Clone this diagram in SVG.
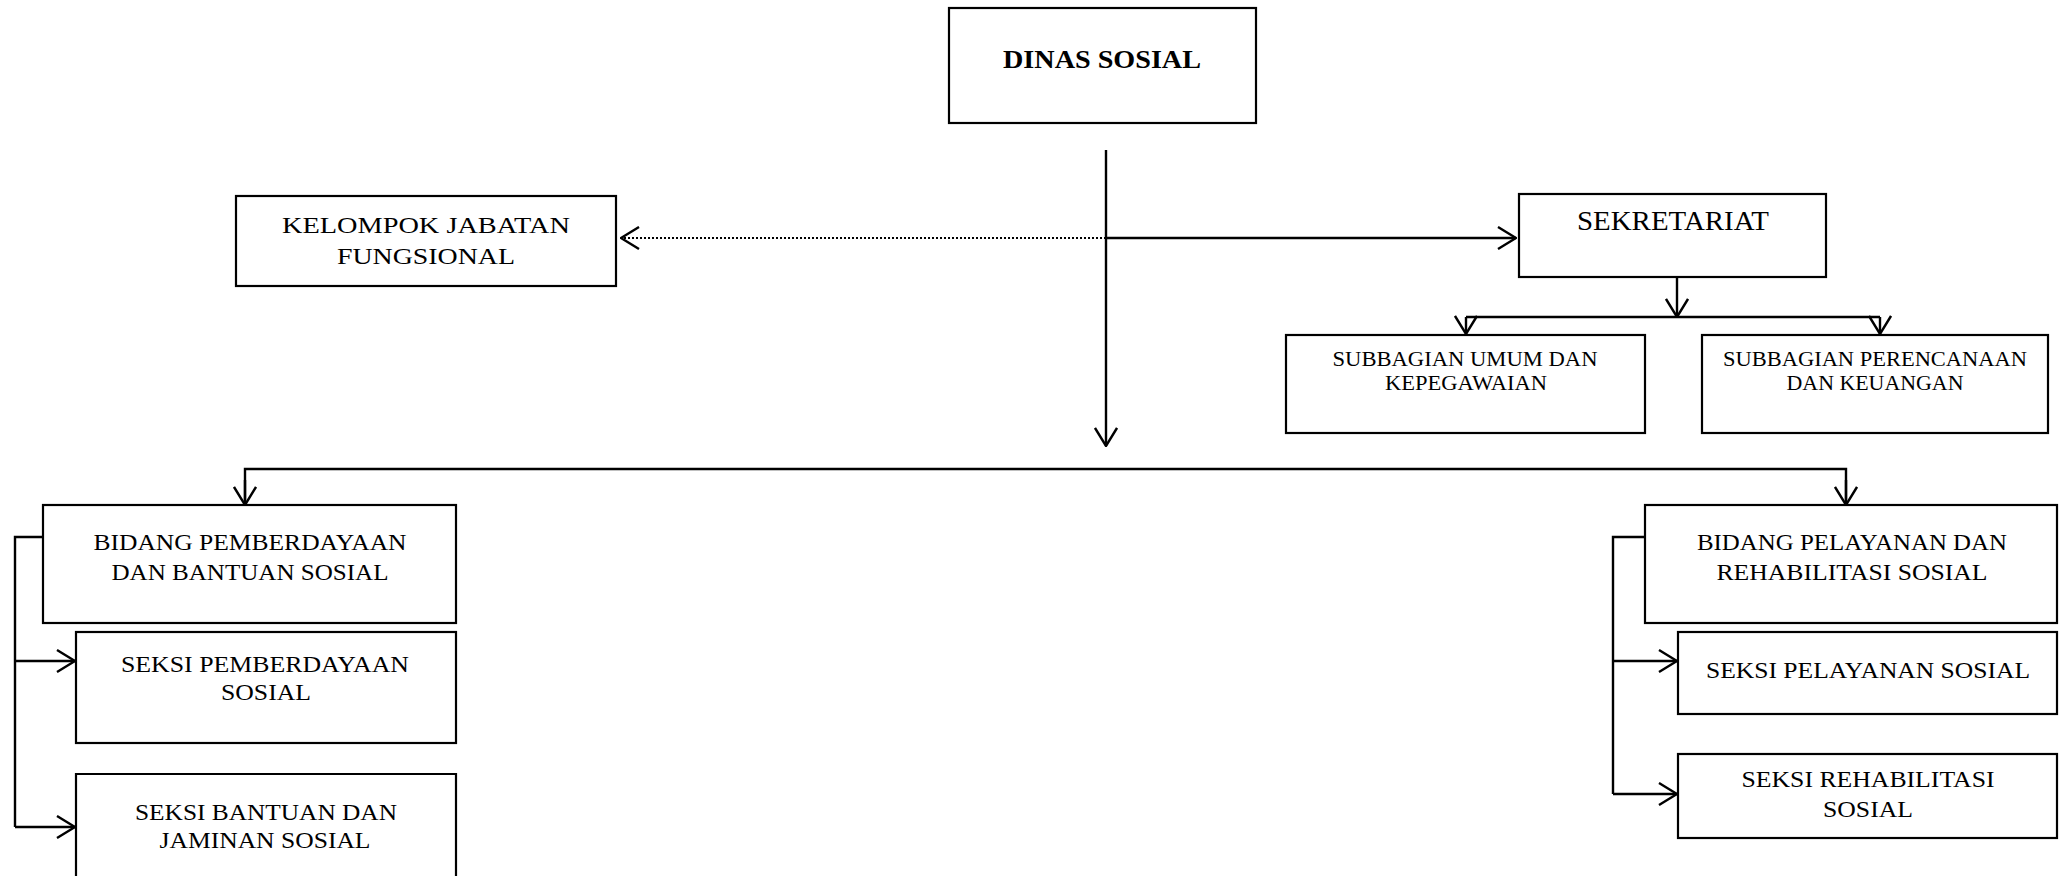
<svg xmlns="http://www.w3.org/2000/svg" width="2064" height="876" viewBox="0 0 2064 876">
<style>
.box{fill:#fff;stroke:#000;stroke-width:2.2}
.t{font-family:"Liberation Serif",serif;font-size:24px;fill:#000;text-anchor:middle}
.tb{font-family:"Liberation Serif",serif;font-size:26px;font-weight:bold;fill:#000;text-anchor:middle}
.tc{font-family:"Liberation Serif",serif;fill:#000;text-anchor:middle}
.ln{fill:none;stroke:#000;stroke-width:2.4}
.dot{fill:none;stroke:#000;stroke-width:2.2;stroke-dasharray:2 2}
</style>
<defs>
<marker id="ah" viewBox="0 0 20 24" refX="19" refY="12" markerWidth="20" markerHeight="24" markerUnits="userSpaceOnUse" orient="auto">
<path d="M1,1 L19,12 L1,23" fill="none" stroke="#000" stroke-width="2.4"/>
</marker>
</defs>
<rect width="2064" height="876" fill="#fff"/>
<g id="connectors">
<path class="ln" d="M1106,150 V446" marker-end="url(#ah)"/>
<path class="dot" d="M1106,238 H621" marker-end="url(#ah)"/>
<path class="ln" d="M1106,238 H1516" marker-end="url(#ah)"/>
<path class="ln" d="M1677,277 V317" marker-end="url(#ah)"/>
<path class="ln" d="M1466,317 H1880"/>
<path class="ln" d="M1466,317 V334" marker-end="url(#ah)"/>
<path class="ln" d="M1880,317 V334" marker-end="url(#ah)"/>
<path class="ln" d="M245,505 V469 H1846 V505" />
<path class="ln" d="M245,480 V505" marker-end="url(#ah)"/>
<path class="ln" d="M1846,480 V505" marker-end="url(#ah)"/>
<path class="ln" d="M43,537 H15 V827"/>
<path class="ln" d="M15,661 H75" marker-end="url(#ah)"/>
<path class="ln" d="M15,827 H75" marker-end="url(#ah)"/>
<path class="ln" d="M1645,537 H1613 V794"/>
<path class="ln" d="M1613,661 H1677" marker-end="url(#ah)"/>
<path class="ln" d="M1613,794 H1677" marker-end="url(#ah)"/>
</g>
<g id="dinas-sosial">
<rect class="box" x="949" y="8" width="307" height="115"/>
<text class="tb" x="1102" y="68" textLength="198" lengthAdjust="spacingAndGlyphs">DINAS SOSIAL</text>
</g>
<g id="kelompok-jabatan-fungsional">
<rect class="box" x="236" y="196" width="380" height="90"/>
<text class="t" x="426" y="233" font-size="28" textLength="288" lengthAdjust="spacingAndGlyphs">KELOMPOK JABATAN</text>
<text class="t" x="426" y="264" font-size="28" textLength="178" lengthAdjust="spacingAndGlyphs">FUNGSIONAL</text>
</g>
<g id="sekretariat">
<rect class="box" x="1519" y="194" width="307" height="83"/>
<text class="tc" x="1673" y="230" font-size="27" textLength="192" lengthAdjust="spacingAndGlyphs">SEKRETARIAT</text>
</g>
<g id="subbagian-umum">
<rect class="box" x="1286" y="335" width="359" height="98"/>
<text class="tc" x="1465" y="366" font-size="22" textLength="265" lengthAdjust="spacingAndGlyphs">SUBBAGIAN UMUM DAN</text>
<text class="tc" x="1466" y="390" font-size="22" textLength="162" lengthAdjust="spacingAndGlyphs">KEPEGAWAIAN</text>
</g>
<g id="subbagian-perencanaan">
<rect class="box" x="1702" y="335" width="346" height="98"/>
<text class="tc" x="1875" y="366" font-size="22" textLength="304" lengthAdjust="spacingAndGlyphs">SUBBAGIAN PERENCANAAN</text>
<text class="tc" x="1875" y="390" font-size="22" textLength="177" lengthAdjust="spacingAndGlyphs">DAN KEUANGAN</text>
</g>
<g id="bidang-pemberdayaan">
<rect class="box" x="43" y="505" width="413" height="118"/>
<text class="t" x="250" y="550" textLength="313" lengthAdjust="spacingAndGlyphs">BIDANG PEMBERDAYAAN</text>
<text class="t" x="250" y="580" textLength="277" lengthAdjust="spacingAndGlyphs">DAN BANTUAN SOSIAL</text>
</g>
<g id="seksi-pemberdayaan">
<rect class="box" x="76" y="632" width="380" height="111"/>
<text class="t" x="265" y="672" textLength="288" lengthAdjust="spacingAndGlyphs">SEKSI PEMBERDAYAAN</text>
<text class="t" x="266" y="700" textLength="90" lengthAdjust="spacingAndGlyphs">SOSIAL</text>
</g>
<g id="seksi-bantuan">
<path class="box" d="M76,880 V774 H456 V880"/>
<text class="t" x="266" y="820" textLength="262" lengthAdjust="spacingAndGlyphs">SEKSI BANTUAN DAN</text>
<text class="t" x="265" y="848" textLength="211" lengthAdjust="spacingAndGlyphs">JAMINAN SOSIAL</text>
</g>
<g id="bidang-pelayanan">
<rect class="box" x="1645" y="505" width="412" height="118"/>
<text class="t" x="1852" y="550" textLength="310" lengthAdjust="spacingAndGlyphs">BIDANG PELAYANAN DAN</text>
<text class="t" x="1852" y="580" textLength="271" lengthAdjust="spacingAndGlyphs">REHABILITASI SOSIAL</text>
</g>
<g id="seksi-pelayanan">
<rect class="box" x="1678" y="632" width="379" height="82"/>
<text class="t" x="1868" y="678" textLength="324" lengthAdjust="spacingAndGlyphs">SEKSI PELAYANAN SOSIAL</text>
</g>
<g id="seksi-rehabilitasi">
<rect class="box" x="1678" y="754" width="379" height="84"/>
<text class="t" x="1868" y="787" textLength="253" lengthAdjust="spacingAndGlyphs">SEKSI REHABILITASI</text>
<text class="t" x="1868" y="817" textLength="90" lengthAdjust="spacingAndGlyphs">SOSIAL</text>
</g>
</svg>
